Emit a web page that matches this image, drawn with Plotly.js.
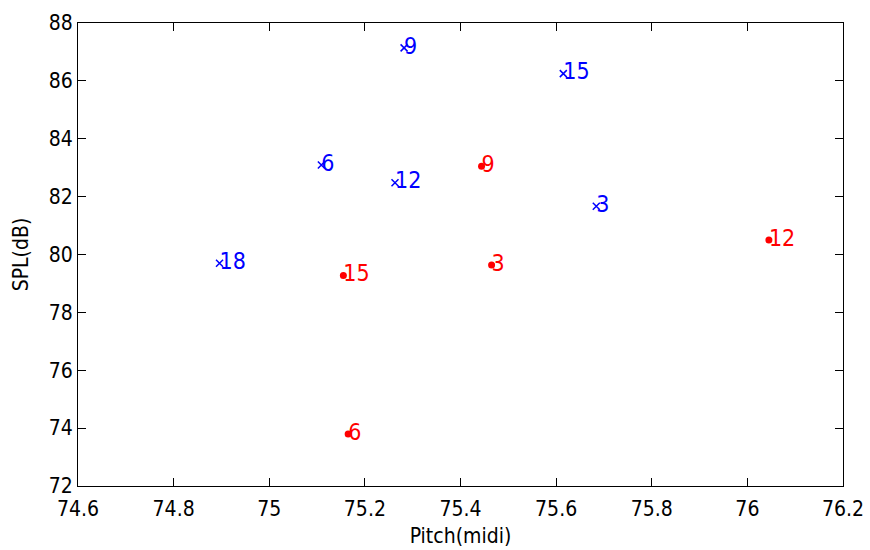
<!DOCTYPE html>
<html>
<head>
<meta charset="utf-8">
<script src="https://cdn.plot.ly/plotly-3.0.1.min.js"></script>
<style>html,body{margin:0;padding:0;background:#fff;}#chart{width:870px;height:550px;}</style>
</head>
<body>
<div id="chart"></div>
<script>
// Blue series (x markers)
const blueLabels = ['9', '15', '6', '12', '3', '18'];
const bluePitch  = [75.282, 75.615, 75.109, 75.263, 75.684, 74.896];
const blueSPL    = [87.14, 86.25, 83.09, 82.48, 81.67, 79.70];

// Red series (dot markers)
const redLabels = ['9', '12', '15', '3', '6'];
const redPitch  = [75.444, 76.045, 75.155, 75.465, 75.165];
const redSPL    = [83.05, 80.50, 79.27, 79.64, 73.80];

const xTicks = [74.6, 74.8, 75, 75.2, 75.4, 75.6, 75.8, 76, 76.2];
const xTickText = ['74.6', '74.8', '75', '75.2', '75.4', '75.6', '75.8', '76', '76.2'];
const yTicks = [72, 74, 76, 78, 80, 82, 84, 86, 88];

const FONT = '"DejaVu Sans Condensed", "DejaVu Sans", sans-serif';
const BLUE = '#0000ff', RED = '#ff0000';

function markerTrace(x, y, marker) {
  return {x: x, y: y, mode: 'markers', type: 'scatter', marker: marker,
          showlegend: false, cliponaxis: false};
}
function labelTrace(x, y, labels, color) {
  return {x: x, y: y, text: labels, mode: 'text', type: 'scatter',
          textposition: 'middle right',
          textfont: {family: FONT, size: 23, color: color},
          showlegend: false, cliponaxis: false};
}

const traces = [
  markerTrace(bluePitch, blueSPL, {symbol: 'x-thin-open', size: 7, color: BLUE, line: {color: BLUE, width: 1.5}}),
  markerTrace(redPitch, redSPL, {symbol: 'circle', size: 7, color: RED}),
  labelTrace(bluePitch, blueSPL, blueLabels, BLUE),
  labelTrace(redPitch, redSPL, redLabels, RED)
];

const axisCommon = {
  showgrid: false, zeroline: false,
  showline: true, linecolor: '#000', linewidth: 1, mirror: 'ticks',
  ticks: 'inside', ticklen: 8, tickwidth: 1, tickcolor: '#000',
  tickfont: {family: FONT, size: 21, color: '#000'},
  automargin: false
};

const layout = {
  width: 870, height: 550,
  margin: {l: 78, r: 27, t: 23, b: 64, pad: 0},
  paper_bgcolor: '#fff', plot_bgcolor: '#fff',
  font: {family: FONT, color: '#000'},
  xaxis: Object.assign({}, axisCommon, {
    range: [74.6, 76.2], tickvals: xTicks, ticktext: xTickText,
    ticklabelstandoff: 4,
    title: {text: 'Pitch(midi)', font: {family: FONT, size: 21, color: '#000'}, standoff: 8}
  }),
  yaxis: Object.assign({}, axisCommon, {
    range: [72, 88], tickvals: yTicks,
    title: {text: 'SPL(dB)', font: {family: FONT, size: 21, color: '#000'}, standoff: 14}
  })
};

Plotly.newPlot('chart', traces, layout, {displayModeBar: false, staticPlot: true});
</script>
</body>
</html>
